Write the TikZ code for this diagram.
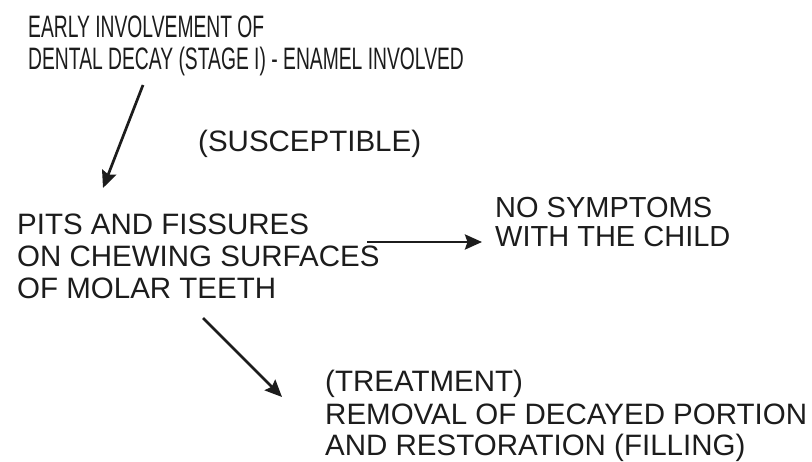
\documentclass[tikz,border=0pt]{standalone}
\usepackage{fontspec}
\setmainfont{Liberation Sans}
\newfontfamily\narrowsans[FakeStretch=0.622]{Liberation Sans}
\usetikzlibrary{arrows.meta}
\definecolor{ink}{RGB}{28,28,28}
\tikzset{
  label/.style={anchor=base west, inner sep=0pt, align=left, text=ink,
    font=\fontsize{29.5}{32}\selectfont},
  narrowlabel/.style={label, font=\narrowsans\fontsize{31}{32}\selectfont},
  arr/.style={draw=ink, line width=2.7pt,
    -{Stealth[length=17pt, width=15pt, inset=2.5pt]}}
}
\begin{document}
\begin{tikzpicture}[x=1pt, y=-1pt]
  \useasboundingbox (0,0) rectangle (812,462);
  \fill[white] (0,0) rectangle (812,462);

  % stages of the decay pathway (each node sits on its last baseline)
  \node[narrowlabel] (top) at (28,70)
    {EARLY INVOLVEMENT OF\\DENTAL DECAY (STAGE I) - ENAMEL INVOLVED};
  \node[label] (susc) at (198,152) {(SUSCEPTIBLE)};
  \node[label] (pits) at (17,299)
    {PITS AND FISSURES\\ON CHEWING SURFACES\\OF MOLAR TEETH};
  \node[label, font=\fontsize{29}{29}\selectfont] (nosym) at (495,247)
    {NO SYMPTOMS\\WITH THE CHILD};
  \node[label] (treat) at (325,456)
    {(TREATMENT)\\REMOVAL OF DECAYED PORTION\\AND RESTORATION (FILLING)};

  % arrow end points, placed relative to the nodes they join
  \coordinate (a1s) at ([shift={(115,15)}]top.base west);
  \coordinate (a1e) at ([shift={(86,-111)}]pits.base west);
  \coordinate (a2s) at ([shift={(350,-57)}]pits.base west);
  \coordinate (a2e) at ([shift={(-13,-5)}]nosym.base west);
  \coordinate (a3s) at ([shift={(186,19)}]pits.base west);
  \coordinate (a3e) at ([shift={(-43,-59)}]treat.base west);

  \draw[arr] (a1s) -- (a1e);
  \draw[arr] (a2s) -- (a2e);
  \draw[arr] (a3s) -- (a3e);
\end{tikzpicture}
\end{document}
